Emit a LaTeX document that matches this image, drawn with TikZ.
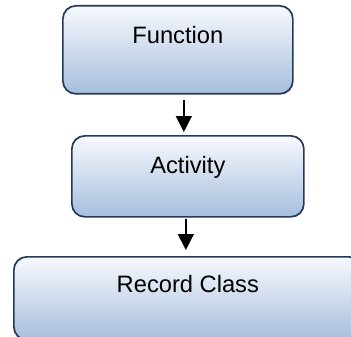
\documentclass[tikz,border=0pt]{standalone}
\usepackage{fontspec}
\setmainfont{Liberation Sans}
\usetikzlibrary{arrows.meta}
\definecolor{boxtop}{RGB}{247,249,253}
\definecolor{boxbot}{RGB}{166,190,221}
\definecolor{boxline}{RGB}{36,58,90}
\tikzset{
  boxnode/.style={draw=boxline, line width=1.7pt, rounded corners=13pt,
    top color=boxtop, bottom color=boxbot, inner xsep=0pt, inner ysep=0pt,
    anchor=north west, font=\fontsize{23.7}{28}\selectfont},
  arr/.style={line width=1.4pt, -{Triangle[width=16pt,length=16pt]}}
}
\begin{document}
\begin{tikzpicture}[x=1pt,y=-1pt]
\useasboundingbox (0,0) rectangle (351,337);
\clip (0,0) rectangle (351,337);
\node[boxnode, minimum width=230pt, text height=37.5pt, text depth=50.5pt] (f) at (62,5) {Function};
\node[boxnode, minimum width=232pt, text height=38pt, text depth=43pt] (a) at (71,135) {Activity};
\node[boxnode, text height=35.5pt, text depth=47.5pt] (r) at (13,256) {\makebox[348pt]{Record Class}\hspace{100pt}};
\draw[arr, shorten <=5pt, shorten >=3pt] ([xshift=6pt]f.south) -- ([xshift=6pt]f.south |- a.north);
\draw[arr, shorten <=1pt, shorten >=6pt] ([xshift=-2pt]a.south) -- ([xshift=-2pt]a.south |- r.north);
\end{tikzpicture}
\end{document}
